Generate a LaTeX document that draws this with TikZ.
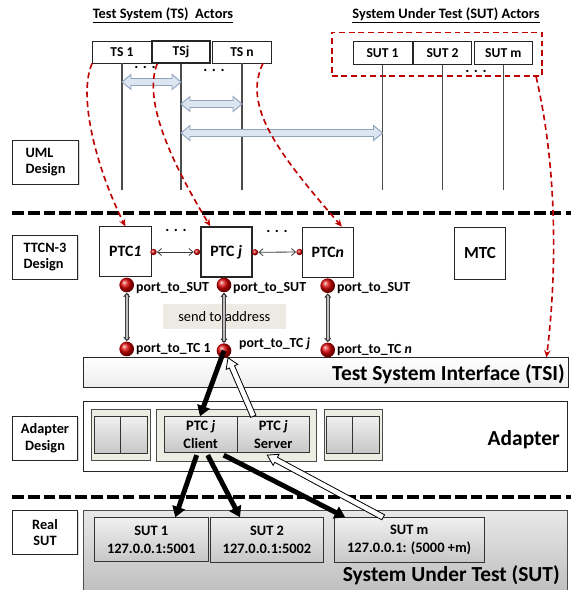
\documentclass[tikz,border=0pt]{standalone}
\usepackage{fontspec}
\setmainfont{Carlito}
\usetikzlibrary{arrows.meta,calc,shadows}
\definecolor{dred}{HTML}{C00000}
\definecolor{arrfill}{HTML}{DCE6F2}
\definecolor{arrdraw}{HTML}{8FA3BA}
\definecolor{beige}{HTML}{EEEDE3}
\definecolor{sendbg}{HTML}{ECEAE2}
\newcommand\fsz[2]{\fontsize{#1}{#2}\selectfont}
\newcommand\blockarr[3]{%
 \draw[barrow] (#1,#3) -- (#1+9,#3-7.5) -- (#1+9,#3-3.5) -- (#2-9,#3-3.5) -- (#2-9,#3-7.5) -- (#2,#3) -- (#2-9,#3+7.5) -- (#2-9,#3+3.5) -- (#1+9,#3+3.5) -- (#1+9,#3+7.5) -- cycle;}
\newcommand\hollowarr[2]{%
 \path ($(#2)!0.3cm!(#1)$) coordinate (hb);
 \filldraw[fill=white,draw=black,line width=0.7pt,line join=miter]
   ($(#1)!0.085cm!90:(#2)$) -- ($(hb)!0.085cm!90:(#2)$) -- ($(hb)!0.19cm!90:(#2)$) -- (#2)
   -- ($(hb)!0.19cm!-90:(#2)$) -- ($(hb)!0.085cm!-90:(#2)$) -- ($(#1)!0.085cm!-90:(#2)$) -- cycle;}
\begin{document}
\begin{tikzpicture}[x=0.03cm,y=-0.03cm,
  box/.style={draw=black!85, line width=0.7pt, fill=white, inner sep=0pt, align=center},
  sz/.style 2 args={minimum width=#1*0.03cm, minimum height=#2*0.03cm},
  life/.style={draw=black!70, line width=0.9pt},
  barrow/.style={draw=arrdraw, fill=arrfill, line width=0.8pt, line join=miter},
  redarr/.style={draw=dred, line width=1.4pt, dash pattern=on 5pt off 3.2pt, -{Stealth[length=6pt,width=5.5pt]}},
  sepline/.style={line width=3.3pt, dash pattern=on 10pt off 3.5pt},
  lbl/.style={box, drop shadow={shadow xshift=1.2pt, shadow yshift=-1.2pt, opacity=0.3}, font=\bfseries\fsz{12.2}{14}},
  ptc/.style={box, font=\bfseries\fsz{13.5}{16}},
  sdot/.style={circle, inner sep=0pt, minimum size=0.19cm, shading=ball, ball color=red!85!black},
  bball/.style={circle, inner sep=0pt, minimum size=0.44cm, shading=ball, ball color=red!85!black},
  smallarr/.style={draw=black!75, line width=0.7pt, {Straight Barb[length=3.5pt,width=6pt]}-{Straight Barb[length=3.5pt,width=6pt]}},
  portconn/.style={draw=black!75, double=black!25, double distance=1.8pt, line width=0.9pt, {Straight Barb[length=3pt,width=5pt]}-{Straight Barb[length=3pt,width=5pt]}},
  plbl/.style={anchor=west, inner sep=0pt, font=\bfseries\fsz{11.8}{13}},
  grp/.style={draw=black!70, line width=0.6pt, fill=beige, inner sep=0pt},
  gbox/.style={draw=black!80, line width=0.7pt, top color=black!6, bottom color=black!22, inner sep=0pt, align=center, font=\bfseries\fsz{12.3}{15.5}},
  big/.style={font=\bfseries\fsz{18.3}{22}, anchor=base east, inner sep=0pt},
  blk/.style={line width=4.2pt, -{Triangle[length=9pt,width=11pt]}},
  dots/.style={font=\bfseries\fsz{13}{13}, inner sep=0pt},
  actor/.style={box, font=\bfseries\fsz{11.6}{13}}
]
\useasboundingbox (0,0) rectangle (571,590);
\fill[white] (0,0) rectangle (571,590);

% ---- titles
\node[font=\bfseries\fsz{12.3}{14}] (t1) at (163,15) {\underline{Test System (TS)~ Actors}};
\node[font=\bfseries\fsz{12.3}{14}] (t2) at (446,15) {\underline{System Under Test (SUT) Actors}};

% ---- actor boxes
\node[actor, sz={59}{22}] (ts1) at (122,52) {TS 1};
\node[actor, sz={58}{22}, line width=1.5pt] (tsj) at (181,52) {TSj};
\node[actor, sz={59}{22}] (tsn) at (242,52) {TS n};
\node[actor, sz={59}{22.6}] (sut1a) at (382.5,53) {SUT 1};
\node[actor, sz={58}{22.6}] (sut2a) at (442.5,53) {SUT 2};
\node[actor, sz={58}{22.6}] (sutma) at (503.3,53) {SUT m};
\node[draw=dred, line width=1.4pt, dash pattern=on 5pt off 3.2pt, sz={210.6}{43.7}, inner sep=0pt] (sutgrp) at (437,54.2) {};

% lifelines
\coordinate (l1) at (122,190);
\coordinate (l2) at (181,190);
\coordinate (l3) at (242,190);
\coordinate (l4) at (382.5,190);
\coordinate (l5) at (442.5,190);
\coordinate (l6) at (503.3,190);
\draw[life] (ts1.south) -- (l1);
\draw[life] (tsj.south) -- (l2);
\draw[life] (tsn.south) -- (l3);
\draw[life] (sut1a.south) -- (l4);
\draw[life] (sut2a.south) -- (l5);
\draw[life] (sutma.south) -- (l6);

\node[dots] (dA) at (145,67) {. . .};
\node[dots] (dB) at (214,70) {. . .};
\node[dots] (dC) at (476,71) {. . .};

% block arrows
\blockarr{122}{181}{82}
\blockarr{181}{242}{104}
\blockarr{181}{382.5}{133}

% ---- side labels and separators
\node[lbl, sz={65.6}{44}, align=left] (uml) at (45.5,162) {UML\\Design};
\node[lbl, sz={64.6}{44}, align=left] (ttcn) at (45,257) {TTCN-3\\Design};
\node[lbl, sz={64.6}{44}] (adl) at (45,438) {Adapter\\Design};
\node[lbl, sz={64.6}{43.3}] (real) at (45,532.3) {Real\\SUT};
\coordinate (s1a) at (12,213); \coordinate (s1b) at (571,213);
\coordinate (s2a) at (12,497); \coordinate (s2b) at (571,497);
\draw[sepline] (s1a) -- (s1b);
\draw[sepline] (s2a) -- (s2b);

% ---- TTCN-3 components
\node[ptc, sz={52.7}{50}] (ptc1) at (125.3,251.7) {PTC\textit{1}};
\node[ptc, sz={51}{50}, line width=1.5pt] (ptcj) at (226.2,252) {PTC \textit{j}};
\node[ptc, sz={51}{50}] (ptcn) at (327.8,252) {PTC\textit{n}};
\node[box, sz={51.4}{51.3}, font=\bfseries\fsz{14.5}{16}] (mtc) at (480,253.3) {MTC};
\node[dots] (dD) at (176,230) {. . .};
\node[dots] (dE) at (277,231) {. . .};
\node[sdot] (d1) at (153.5,252) {};
\node[sdot] (d2) at (197,252) {};
\node[sdot] (d3) at (255,252.3) {};
\node[sdot] (d4) at (299.5,252) {};
\draw[smallarr] (d1) -- (d2);
\draw[smallarr] (d3) -- (d4);

\node[fill=sendbg, sz={123.3}{25.3}, inner sep=0pt, font=\fsz{12.3}{14}] (send) at (224.3,316.7) {send to address};

% ---- TSI / Adapter / SUT
\node[box, top color=white, bottom color=black!7, sz={484.7}{29.8}] (tsi) at (325.7,372.6) {};
\node[big] (tsil) at (565,380) {Test System Interface (TSI)};
\node[box, sz={483.7}{70}] (adp) at (325.2,436.7) {};
\node[big] (adpl) at (560,445.5) {Adapter};
\node[grp, sz={59}{51.7}] (g1) at (121.2,434.9) {};
\node[gbox, sz={26.4}{36.6}] (a1) at (107.5,435) {};
\node[gbox, sz={26.6}{36.6}] (a2) at (134,435) {};
\node[grp, sz={160}{52}] (g2) at (236.7,435) {};
\node[gbox, sz={73.3}{36}] (client) at (200.7,434.7) {PTC \textit{j}\\Client};
\node[gbox, sz={72}{36}] (server) at (273.3,434.7) {PTC \textit{j}\\Server};
\node[grp, sz={58.3}{51}] (g3) at (353.2,434.7) {};
\node[gbox, sz={26}{36.6}] (a3) at (339.7,434.7) {};
\node[gbox, sz={26.6}{36.6}] (a4) at (366,434.7) {};

\node[draw=black!70, line width=0.7pt, top color=black!9, bottom color=black!27, sz={483.7}{90}, inner sep=0pt] (sutbig) at (325.2,555.7) {};
\node[big] (sutbigl) at (560,581) {System Under Test (SUT)};
\node[gbox, sz={114}{44}] (s1) at (151.3,539.7) {SUT 1\\127.0.0.1:5001};
\node[gbox, sz={112.6}{44.3}] (s2) at (267,539.8) {SUT 2\\127.0.0.1:5002};
\node[gbox, sz={149.7}{45}] (sm) at (409.2,540.2) {SUT m\\127.0.0.1: (5000 +m)};

% ---- ports
\node[bball] (b1s) at (126.7,285) {};
\node[bball] (b1t) at (126.7,349) {};
\node[bball] (bjs) at (224,285) {};
\node[bball] (bjt) at (224,350.7) {};
\node[bball] (bns) at (327.7,285.7) {};
\node[bball] (bnt) at (327.7,350) {};
\draw[portconn] (b1s) -- (b1t);
\draw[portconn] (bjs) -- (bjt);
\draw[portconn] (bns) -- (bnt);
\node[plbl] (p1) at (136,288) {port\_to\_SUT};
\node[plbl] (p2) at (233,288) {port\_to\_SUT};
\node[plbl] (p3) at (337,288) {port\_to\_SUT};
\node[plbl] (p4) at (136,349) {port\_to\_TC 1};
\node[plbl] (p5) at (239,344) {port\_to\_TC \textit{j}};
\node[plbl] (p6) at (337,350) {port\_to\_TC \textit{n}};

% ---- message arrows
\coordinate (ce) at ($(client.north)+(-0.7,0)$);
\draw[blk] (bjt.center) -- (ce);
\coordinate (cs1) at ($(client.south)+(-4,2)$);
\coordinate (cs2) at ($(client.south)+(7,2)$);
\coordinate (cs3) at ($(client.south)+(23,2)$);
\coordinate (e1) at ($(s1.north)+(24,0)$);
\coordinate (e2) at ($(s2.north)+(-27,0)$);
\coordinate (e3) at ($(sm.north)+(-64,0)$);
\draw[blk] (cs1) -- (e1);
\draw[blk] (cs2) -- (e2);
\draw[blk] (cs3) -- (e3);
\coordinate (h1s) at ($(server.north)+(-20,0)$);
\coordinate (h1e) at ($(bjt)+(4,7)$);
\hollowarr{h1s}{h1e}
\coordinate (h2s) at ($(sm.north)+(-26,0)$);
\coordinate (h2e) at ($(server.south)+(-6,2)$);
\hollowarr{h2s}{h2e}

% ---- red mapping arrows
\coordinate (r1s) at (ts1.south west);
\coordinate (r2s) at ($(tsj.south west)+(6,0)$);
\coordinate (r3s) at ($(tsn.south east)+(-9,0)$);
\coordinate (r4s) at ($(sutgrp.south east)+(-7,0)$);
\coordinate (r2e) at ($(ptcj.north)+(-16,0)$);
\coordinate (r3e) at ($(ptcn.north)+(14,0)$);
\coordinate (r4e) at ($(tsi.north east)+(-22,0)$);
\draw[redarr] (r1s) .. controls (78,95) and (95,165) .. (ptc1.north);
\draw[redarr] (r2s) .. controls (143,100) and (170,160) .. (r2e);
\draw[redarr] (r3s) .. controls (243,105) and (275,150) .. (r3e);
\draw[redarr] (r4s) .. controls (560,180) and (555,290) .. (r4e);
\end{tikzpicture}
\end{document}
